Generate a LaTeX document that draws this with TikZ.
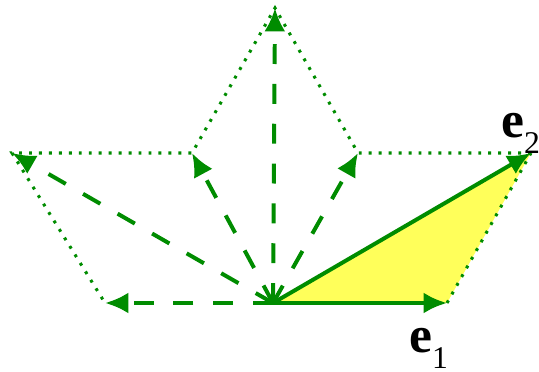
\documentclass[tikz,border=0pt]{standalone}
\usepackage{fontspec}
\setmainfont{Liberation Serif}
\usetikzlibrary{arrows.meta}
\definecolor{vgreen}{RGB}{0,140,0}
\definecolor{vyellow}{RGB}{255,255,90}
\tikzset{
  vec/.style={line width=3.4pt, color=vgreen, -{Latex[length=20pt,width=18pt]}},
  dvec/.style={vec, dash pattern=on 17pt off 17pt},
  dotl/.style={line width=2.6pt, color=vgreen, dash pattern=on 2.5pt off 6pt},
  lab/.style={font=\fontsize{44}{48}\selectfont\bfseries, inner sep=0pt},
  sub/.style={}
}
\newcommand{\subdig}[2]{\raisebox{#1}{\fontsize{27}{27}\selectfont\mdseries #2}}
\begin{document}
\begin{tikzpicture}[x=0.03cm, y=-0.03cm]
\useasboundingbox (0,0) rectangle (539,372);
\coordinate (O) at (273,303);
\coordinate (A) at (447,303);
\coordinate (B) at (531,153);
\coordinate (C) at (358,153);
\coordinate (T) at (275,8);
\coordinate (D) at (192,153);
\coordinate (L) at (12,153);
\coordinate (M) at (105,303);
\fill[vyellow] (O) -- (A) -- (B) -- cycle;
\draw[dotl] (A) -- (B);
\draw[dotl] (B) -- (C) -- (T) -- (D) -- (L) -- (M);
\draw[dvec] (O) -- (M);
\draw[dvec] (O) -- (L);
\draw[dvec] (O) -- (D);
\draw[dvec] (O) -- (T);
\draw[dvec] (O) -- (C);
\draw[vec] (O) -- (A);
\draw[vec] (O) -- (B);
\node[lab, anchor=base west] (e1) at (409,352) {e\subdig{-14.5pt}{1}};
\node[lab, anchor=base west] (e2) at (501,138) {e\subdig{-13pt}{2}};
\end{tikzpicture}
\end{document}
